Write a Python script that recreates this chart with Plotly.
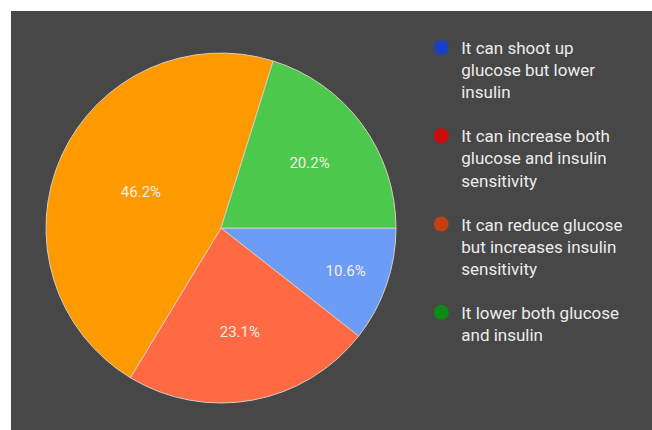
import plotly.graph_objects as go

# Survey answers and their share of responses (%)
categories = [
    "It can shoot up<br>glucose but lower<br>insulin",
    "It can increase both<br>glucose and insulin<br>sensitivity",
    "It can reduce glucose<br>but increases insulin<br>sensitivity",
    "It lower both glucose<br>and insulin",
]
shares = [10.6, 23.1, 46.2, 20.2]

slice_colors = ["#6d9cf7", "#ff6944", "#ff9900", "#4cc94c"]
legend_colors = ["#1b3fc4", "#cc0b0b", "#c0410f", "#0d8a12"]

fig = go.Figure()

fig.add_trace(go.Pie(
    labels=categories,
    values=shares,
    sort=False,
    direction="clockwise",
    rotation=90,
    marker=dict(colors=slice_colors, line=dict(color="#d6cdbd", width=1)),
    texttemplate="%{value}%",
    textposition="inside",
    insidetextorientation="horizontal",
    insidetextfont=dict(family="Roboto", size=15, color="#f4efe4"),
    hoverinfo="label+percent",
    showlegend=False,
    domain=dict(x=[0.0546, 0.6006], y=[0.0644, 0.8997]),
))

# Legend entries with round markers
for i, (name, col) in enumerate(zip(categories, legend_colors)):
    fig.add_trace(go.Scatter(
        x=[None], y=[None], mode="markers", name=name,
        legendgroup=f"g{i}",
        marker=dict(symbol="circle", size=15, color=col),
    ))

fig.update_layout(
    width=652, height=430,
    margin=dict(l=11, r=0, t=11, b=0),
    paper_bgcolor="#ffffff",
    plot_bgcolor="#474747",
    xaxis=dict(visible=False),
    yaxis=dict(visible=False),
    legend=dict(
        x=0.64, y=0.955, xanchor="left", yanchor="top",
        font=dict(family="Roboto", size=17, color="#ececec"),
        bgcolor="rgba(0,0,0,0)",
        valign="top",
        tracegroupgap=19,
        itemsizing="trace",
        itemwidth=30,
    ),
)

fig.write_html("out.html")
